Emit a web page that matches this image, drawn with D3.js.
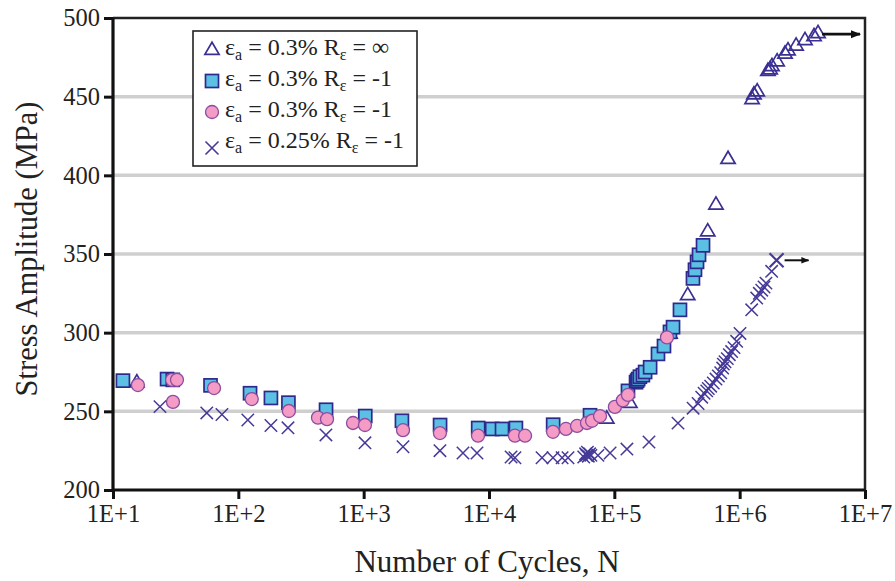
<!DOCTYPE html>
<html>
<head>
<meta charset="utf-8">
<script src="https://cdn.jsdelivr.net/npm/d3@7/dist/d3.min.js"></script>
<style>
  html, body { margin: 0; padding: 0; background: #fff; }
  svg { display: block; }
  text { font-family: "Liberation Serif", "Times New Roman", serif; fill: #222; }
</style>
</head>
<body>
<svg id="chart" width="895" height="581"></svg>
<script>
// Cyclic stress response: stress amplitude (MPa) vs. number of cycles N

// εa = 0.3%, Rε = ∞ (open triangles)
const triN = [15.5, 87000, 133000, 278000, 385000, 556000, 647000, 808000,
  1256000, 1300000, 1380000, 1680000, 1750000, 1810000, 1990000, 2300000,
  2430000, 2820000, 3320000, 3920000, 4220000];
const triS = [269, 246, 256, 300, 324.5, 365, 382, 411,
  449, 452, 454, 467, 468, 470, 473, 478,
  480, 483, 486.5, 489, 491];

// εa = 0.3%, Rε = -1 (filled squares)
const sqN = [12, 27, 30, 60, 124, 182, 251, 501, 1030, 2020, 4070, 8200,
  10600, 12700, 16400, 32500, 64000, 128500, 149000, 152000, 155000, 160000,
  169000, 176000, 193000, 223000, 249000, 278000, 294000, 334000, 424000,
  440000, 457000, 474000, 510000];
const sqS = [269.5, 270.5, 270, 266.5, 261.5, 258.5, 255.5, 251, 247, 244, 241.3, 239.4,
  238.8, 238.8, 239.4, 241.5, 247.5, 263, 268.5, 269.5, 270.5, 272,
  273, 275, 278, 286.5, 291.5, 300.5, 303.5, 314.5, 334.5,
  340, 345, 349.5, 355.5];

// εa = 0.3%, Rε = -1 (filled circles)
const cirN = [15.8, 29.6, 32.4, 30.1, 64, 128, 253, 432, 510, 822, 1024, 2060,
  4060, 8170, 16100, 19400, 32400, 41100, 50400, 60500, 66400, 76900, 101000,
  117000, 128500, 263000];
const cirS = [266.7, 270, 270, 256, 264.8, 257.8, 250.2, 246, 245, 242.6, 241.3, 238,
  236.2, 234.5, 234.5, 234.5, 237, 238.8, 240.7, 242.6, 244, 247, 252.8,
  257, 260.4, 297];

// εa = 0.25%, Rε = -1 (crosses)
const xN = [23.7, 56, 74, 119, 182, 249, 500, 1024, 2060, 4060, 6200, 8020,
  15000, 16100, 26500, 32400, 38300, 42700, 57000, 59000, 60000, 61000, 62000,
  63500, 65000, 74000, 92500, 126000, 189000, 322000, 425000, 466000, 498000,
  520000, 546000, 562000, 587000, 616000, 647000, 676000, 706000, 732000,
  741000, 764000, 797000, 827000, 863000, 901000, 946000, 1006000, 1247000,
  1368000, 1435000, 1500000, 1565000, 1620000, 1800000, 1970000];
const xS = [253, 249, 248, 244.5, 241, 239.5, 235, 230, 227.5, 225, 223.5, 223.5,
  221, 220.5, 220.5, 220.5, 220.5, 220.5, 221, 223, 222, 224, 221.5,
  223, 222, 222, 223.5, 226, 230.5, 242.5, 252, 255, 259,
  261.5, 263, 264.5, 266, 268, 270.5, 272.5, 274.5, 277.5,
  280, 281.5, 283.5, 286, 288, 290.5, 294.5, 299.5, 314.5,
  322, 325, 327, 329, 331.5, 339, 346];

const xTicks = [1e1, 1e2, 1e3, 1e4, 1e5, 1e6, 1e7];
const xTickLabels = ["1E+1", "1E+2", "1E+3", "1E+4", "1E+5", "1E+6", "1E+7"];
const yTicks = [200, 250, 300, 350, 400, 450, 500];
const gridValues = [250, 300, 350, 400, 450];

const legendLabels = [
  { sym: "tri", pct: "0.3%", r: "∞" },
  { sym: "sq", pct: "0.3%", r: "-1" },
  { sym: "cir", pct: "0.3%", r: "-1" },
  { sym: "x", pct: "0.25%", r: "-1" }
];

const C = {
  tri: "#3a2f93",
  sqFill: "#5bc0e3", sqStroke: "#2d2a8c",
  cirFill: "#f59cc6", cirStroke: "#8c4d9f",
  x: "#463a98",
  grid: "#cfcfcf"
};

const svg = d3.select("#chart");
const M = { left: 113, right: 865, top: 18, bottom: 490 };

const x = d3.scaleLog().domain([1e1, 1e7]).range([M.left, M.right]);
const y = d3.scaleLinear().domain([200, 500]).range([M.bottom, M.top]);

// gridlines
svg.append("g").selectAll("line").data(gridValues).join("line")
  .attr("x1", M.left).attr("x2", M.right)
  .attr("y1", d => y(d)).attr("y2", d => y(d))
  .attr("stroke", C.grid).attr("stroke-width", 3.5);

// frame (top and right)
svg.append("path")
  .attr("d", `M${M.left},${M.top} H${M.right} V${M.bottom}`)
  .attr("fill", "none").attr("stroke", "#222").attr("stroke-width", 2.5);

// axes
const xAxis = d3.axisBottom(x).tickValues(xTicks)
  .tickFormat((d, i) => xTickLabels[i]).tickSize(9).tickPadding(6);
const gx = svg.append("g").attr("transform", `translate(0,${M.bottom})`).call(xAxis);
const yAxis = d3.axisLeft(y).tickValues(yTicks).tickSize(9).tickPadding(4);
const gy = svg.append("g").attr("transform", `translate(${M.left},0)`).call(yAxis);

[gx, gy].forEach(g => {
  g.select(".domain").attr("stroke", "#111").attr("stroke-width", 3.2);
  g.selectAll(".tick line").attr("stroke", "#111").attr("stroke-width", 3);
  g.selectAll(".tick text").attr("font-size", 24.5)
    .attr("font-family", '"Liberation Serif", "Times New Roman", serif').attr("fill", "#222");
});
gx.selectAll(".domain").attr("d", `M${M.left},0H${M.right}`);
gy.selectAll(".domain").attr("d", `M0,${M.bottom}V${M.top}`);

// axis titles
svg.append("text")
  .attr("x", (M.left + M.right) / 2 - 2).attr("y", 572)
  .attr("text-anchor", "middle").attr("font-size", 31)
  .text("Number of Cycles, N");
svg.append("text")
  .attr("transform", `translate(37,${(M.top + M.bottom) / 2 - 5}) rotate(-90)`)
  .attr("text-anchor", "middle").attr("font-size", 30.5)
  .text("Stress Amplitude (MPa)");

// marker drawing helpers
const triPath = (cx, cy, s) => `M${cx},${cy - s} L${cx + s * 1.05},${cy + s * 0.8} L${cx - s * 1.05},${cy + s * 0.8} Z`;
const xPath = (cx, cy, s) => `M${cx - s},${cy - s} L${cx + s},${cy + s} M${cx - s},${cy + s} L${cx + s},${cy - s}`;

const pts = (ns, ss) => ns.map((n, i) => ({ n, s: ss[i] }));

const plot = svg.append("g");

plot.append("g").selectAll("path").data(pts(triN, triS)).join("path")
  .attr("d", d => triPath(x(d.n), y(d.s), 6.8))
  .attr("fill", "none").attr("stroke", C.tri).attr("stroke-width", 1.7);

plot.append("g").selectAll("rect").data(pts(sqN, sqS)).join("rect")
  .attr("x", d => x(d.n) - 6.5).attr("y", d => y(d.s) - 6.5)
  .attr("width", 13).attr("height", 13)
  .attr("fill", C.sqFill).attr("stroke", C.sqStroke).attr("stroke-width", 1.7);

plot.append("g").selectAll("circle").data(pts(cirN, cirS)).join("circle")
  .attr("cx", d => x(d.n)).attr("cy", d => y(d.s)).attr("r", 6.5)
  .attr("fill", C.cirFill).attr("stroke", C.cirStroke).attr("stroke-width", 1.3);

plot.append("g").selectAll("path").data(pts(xN, xS)).join("path")
  .attr("d", (d, i) => xPath(x(d.n), y(d.s), i === xN.length - 1 ? 7 : 6.2))
  .attr("fill", "none").attr("stroke", C.x)
  .attr("stroke-width", (d, i) => i === xN.length - 1 ? 2.2 : 1.5);

// run-out arrows on the last points of the ∞ and 0.25% series
const defs = svg.append("defs");
defs.append("marker").attr("id", "head").attr("viewBox", "0 0 10 10")
  .attr("refX", 9).attr("refY", 5).attr("markerWidth", 4).attr("markerHeight", 4)
  .attr("markerUnits", "strokeWidth").attr("orient", "auto")
  .append("path").attr("d", "M0,1 L10,5 L0,9 Z").attr("fill", "#111");

const arrows = [
  { n: triN[triN.length - 1], s: triS[triS.length - 1], off: 4, len: 38, w: 2.6, dy: 2 },
  { n: xN[xN.length - 1], s: xS[xS.length - 1], off: 8, len: 24, w: 2, dy: 0 }
];
svg.append("g").selectAll("line").data(arrows).join("line")
  .attr("x1", d => x(d.n) + d.off).attr("x2", d => x(d.n) + d.off + d.len)
  .attr("y1", d => y(d.s) + d.dy).attr("y2", d => y(d.s) + d.dy)
  .attr("stroke", "#111").attr("stroke-width", d => d.w)
  .attr("marker-end", "url(#head)");

// legend
const lg = svg.append("g");
lg.append("rect").attr("x", 193).attr("y", 31).attr("width", 224).attr("height", 135)
  .attr("fill", "#fff").attr("stroke", "#222").attr("stroke-width", 1.6);

const rowY = [55, 86, 117, 148];
const symX = 212;
legendLabels.forEach((d, i) => {
  const cy = rowY[i] - 6;
  if (d.sym === "tri") {
    lg.append("path").attr("d", triPath(symX, cy, 6.8))
      .attr("fill", "none").attr("stroke", C.tri).attr("stroke-width", 1.7);
  } else if (d.sym === "sq") {
    lg.append("rect").attr("x", symX - 6.5).attr("y", cy - 6.5 + 1).attr("width", 13).attr("height", 13)
      .attr("fill", C.sqFill).attr("stroke", C.sqStroke).attr("stroke-width", 1.7);
  } else if (d.sym === "cir") {
    lg.append("circle").attr("cx", symX).attr("cy", cy + 1).attr("r", 6.5)
      .attr("fill", C.cirFill).attr("stroke", C.cirStroke).attr("stroke-width", 1.3);
  } else {
    lg.append("path").attr("d", xPath(symX, cy + 6, 6.5))
      .attr("fill", "none").attr("stroke", C.x).attr("stroke-width", 1.6);
  }
  const t = lg.append("text").attr("x", 225).attr("y", rowY[i]).attr("font-size", 24);
  t.append("tspan").text("ε");
  t.append("tspan").attr("font-size", 16).attr("dy", 5).text("a");
  t.append("tspan").attr("dy", -5).text(` = ${d.pct} R`);
  t.append("tspan").attr("font-size", 16).attr("dy", 5).text("ε");
  t.append("tspan").attr("dy", -5).text(` = ${d.r}`);
});
</script>
</body>
</html>
